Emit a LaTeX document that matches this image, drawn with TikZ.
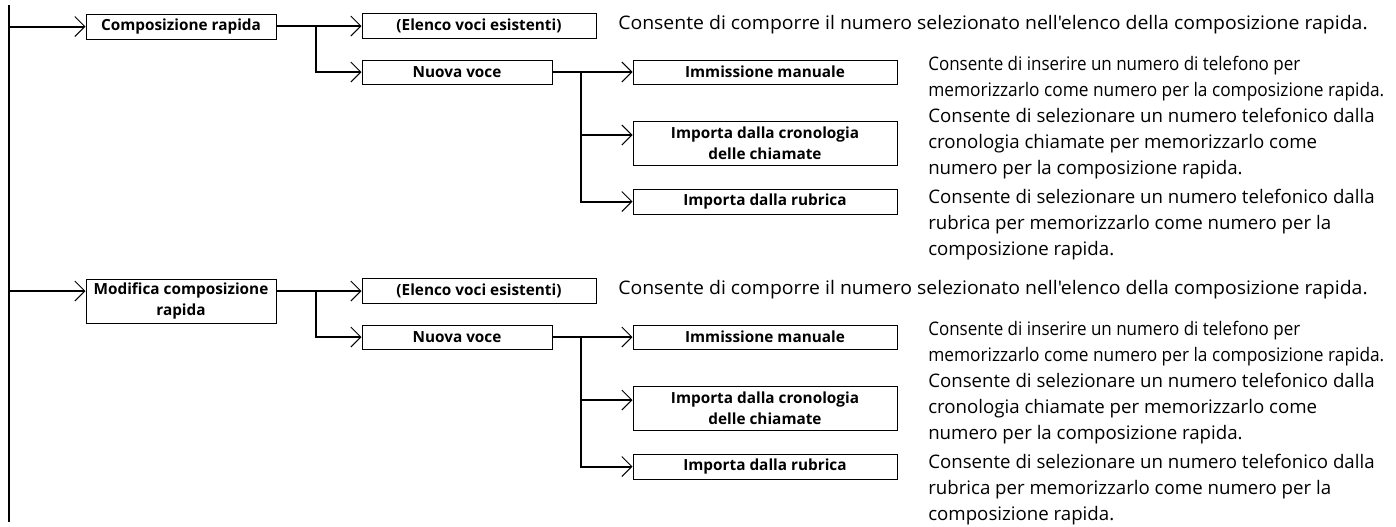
\documentclass[tikz,border=0pt]{standalone}
\usepackage{fontspec}
\setmainfont{Open Sans}[Ligatures=TeXOff]
\usetikzlibrary{arrows.meta}
\newcommand\descfont{\fontsize{14pt}{19.5pt}\selectfont}
\newcommand\boxfont{\bfseries\fontsize{11.5pt}{15.75pt}\selectfont}
\newsavebox\fitbox
\newcommand\fitw[2]{\sbox\fitbox{\descfont #2}\resizebox{#1}{\ht\fitbox}{\usebox\fitbox}}
\tikzset{
  box/.style={draw, line width=0.75pt, inner sep=0pt, font=\boxfont, align=center},
  conn/.style={line width=1.5pt},
  arr/.style={conn, -{Straight Barb[length=7.5pt,width=15pt,line width=0.75pt]}},
  desc/.style={inner sep=0pt, anchor=north west, align=left, font=\descfont},
  oneline/.style={inner sep=0pt, anchor=west, font=\descfont},
}
\begin{document}
\begin{tikzpicture}[x=0.75pt,y=-0.75pt]
\useasboundingbox (0,0) rectangle (1396,526);
\coordinate (top) at (9,5);
\coordinate (bot) at (9,522);
\draw[conn] (top) -- (bot);
\node[box, minimum width=190*0.75pt, minimum height=25*0.75pt] (L1) at (181,26.5) {Composizione rapida};
\node[box, minimum width=190*0.75pt, minimum height=44*0.75pt] (L2) at (181,301) {Modifica composizione\\rapida};
\draw[arr] (top |- L1.west) -- (L1.west);
\draw[arr] (top |- 0,291) -- (L2.west |- 0,291);
\foreach \b/\dy in {1/0,2/265}{
  \node[box, minimum width=234*0.75pt, minimum height=25*0.75pt] (el\b) at (479,26+\dy) {(Elenco voci esistenti)};
  \node[box, minimum width=190*0.75pt, minimum height=24*0.75pt] (nv\b) at (457,72+\dy) {Nuova voce};
  \node[box, minimum width=264*0.75pt, minimum height=24*0.75pt] (im\b) at (765,72+\dy) {Immissione manuale};
  \node[box, minimum width=264*0.75pt, minimum height=44*0.75pt] (cro\b) at (765,143+\dy) {Importa dalla cronologia\\delle chiamate};
  \node[box, minimum width=264*0.75pt, minimum height=25*0.75pt] (rub\b) at (765,201.5+\dy) {Importa dalla rubrica};
  \coordinate (b\b) at (316,26+\dy);
  \coordinate (c\b) at (581,72+\dy);
  \draw[conn] (L\b.east |- b\b) -- (b\b);
  \draw[arr] (b\b) -- (el\b.west);
  \draw[arr] (b\b) |- (nv\b.west);
  \draw[conn] (nv\b.east) -- (c\b);
  \draw[arr] (c\b) -- (im\b.west);
  \draw[arr] (c\b) |- ([yshift=6pt]cro\b.west);
  \draw[arr] (c\b) |- (rub\b.west);
  \node[oneline] (de\b) at (618,25+\dy) {\fitw{562pt}{Consente di comporre il numero selezionato nell'elenco della composizione rapida.}};
  \node[desc] (di\b) at (928,56+\dy) {\fitw{279pt}{Consente di inserire un numero di telefono per}\\\fitw{342pt}{memorizzarlo come numero per la composizione rapida.}};
  \node[desc] (dc\b) at (928,108+\dy) {Consente di selezionare un numero telefonico dalla\\cronologia chiamate per memorizzarlo come\\numero per la composizione rapida.};
  \node[desc] (dr\b) at (928,189+\dy) {Consente di selezionare un numero telefonico dalla\\rubrica per memorizzarlo come numero per la\\composizione rapida.};
}
\end{tikzpicture}
\end{document}
